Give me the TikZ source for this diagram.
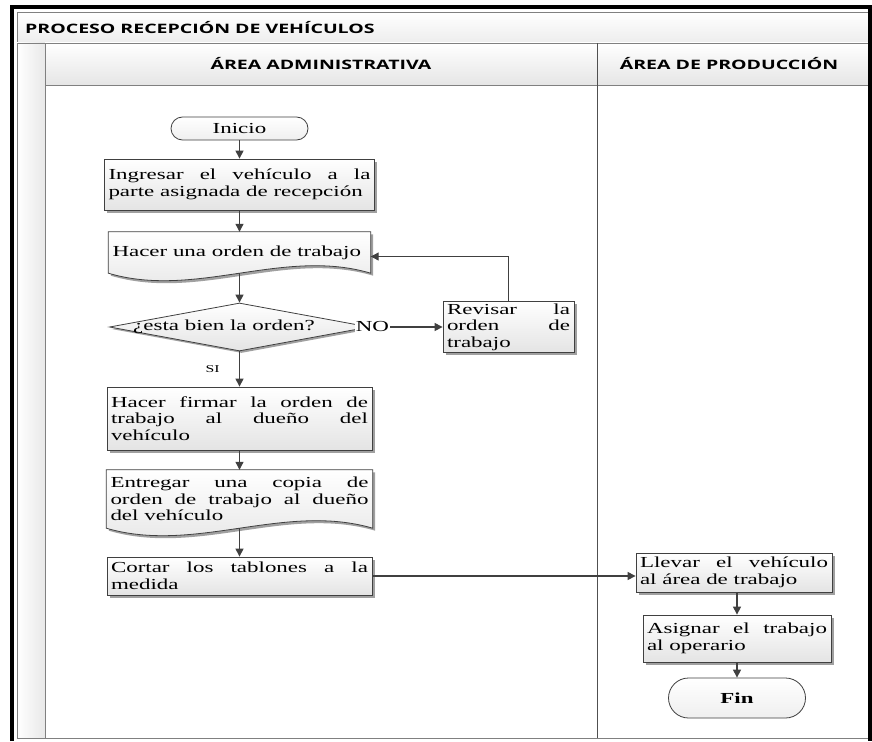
\documentclass[tikz,border=0pt]{standalone}
\usepackage{fontspec}
\setmainfont{Liberation Serif}[FakeStretch=1.5]
\newfontfamily\headfont{Open Sans}[FakeStretch=1.5]
\usetikzlibrary{arrows.meta,shapes.geometric,shadows,calc}
\pgfdeclarelayer{pool}
\pgfdeclarelayer{docs}
\pgfsetlayers{pool,docs,main}
\definecolor{edge}{HTML}{404040}
\definecolor{poolline}{HTML}{808080}
\definecolor{laneline}{HTML}{505050}
\definecolor{boxbot}{HTML}{E4E4E4}
\definecolor{shade}{HTML}{A0A0A0}
\hyphenpenalty=10000
\exhyphenpenalty=10000
\newcommand\bodyfont{\fontsize{15.3}{16.6}\selectfont}
\newcommand\titlefont{\headfont\bfseries\fontsize{13}{15}\selectfont}
% document symbol (wavy bottom) drawn around a named node
\newcommand\docshape[1]{%
  \path[fill=shade, transform canvas={shift={(2.5pt,-2.5pt)}}]
    (#1.north west) -- (#1.north east) -- (#1.south east)
    .. controls ($(#1.south east)!1/3!(#1.south west)+(0,-26)$)
    and ($(#1.south east)!2/3!(#1.south west)+(0,26)$) .. (#1.south west) -- cycle;
  \path[draw=edge, line width=0.8pt, top color=white, bottom color=boxbot]
    (#1.north west) -- (#1.north east) -- (#1.south east)
    .. controls ($(#1.south east)!1/3!(#1.south west)+(0,-26)$)
    and ($(#1.south east)!2/3!(#1.south west)+(0,26)$) .. (#1.south west) -- cycle;}
\begin{document}
\begin{tikzpicture}[x=1pt,y=-1pt,
  proc/.style={rectangle, draw=edge, line width=0.8pt, top color=white, bottom color=boxbot,
    drop shadow={shadow xshift=2.5pt, shadow yshift=-2.5pt, fill=shade, opacity=1},
    inner xsep=4pt, inner ysep=2pt, align=justify, font=\bodyfont},
  docbox/.style={rectangle, inner xsep=4pt, inner ysep=2pt, align=justify, font=\bodyfont},
  term/.style={rectangle, rounded corners=#1, draw=edge, line width=0.8pt,
    top color=white, bottom color=boxbot!60, minimum width=137pt, font=\bodyfont},
  decision/.style={diamond, draw=edge, line width=0.8pt, top color=white, bottom color=boxbot,
    drop shadow={shadow xshift=2pt, shadow yshift=-2pt, fill=shade, opacity=1},
    minimum width=260pt, minimum height=48pt, inner sep=0pt},
  arr/.style={draw=edge, line width=1.1pt, -{Triangle[length=8pt,width=8pt]}},
  headtext/.style={font=\titlefont, inner sep=0pt},
  lbl/.style={font=\bodyfont, fill=white, inner sep=1pt}
]
\useasboundingbox (0,0) rectangle (872,741);

% ---------- pool and lanes ----------
\begin{pgfonlayer}{pool}
  \fill[white] (0,0) rectangle (872,741);
  \path[top color=white, bottom color=black!7, draw=poolline, line width=0.8pt] (17,12) rectangle (868,43);
  \path[left color=white, right color=black!9, draw=poolline, line width=0.8pt] (17,43) rectangle (45,738);
  \path[top color=white, bottom color=black!10, draw=poolline, line width=0.8pt] (45,43) rectangle (868,85);
  \draw[laneline, line width=0.9pt] (597,43) -- (597,738);
  \draw[poolline, line width=0.8pt] (45,738) -- (868,738);
  \draw[black, line width=4pt] (12,741) -- (12,7) -- (870,7) -- (870,741);
\end{pgfonlayer}
\node[headtext, anchor=west] (title) at (25,27.5) {PROCESO RECEPCIÓN DE VEHÍCULOS};
\node[headtext] (hadm) at (321,64) {ÁREA ADMINISTRATIVA};
\node[headtext] (hprod) at (729,64) {ÁREA DE PRODUCCIÓN};

% ---------- administrative lane ----------
\node[term=11.5pt, minimum height=23pt] (ini) at (239.5,128.5) {Inicio};
\node[proc, text width=262pt, minimum height=51pt] (ing) at (239.5,184.5)
  {Ingresar el vehículo a la\linebreak parte asignada de recepción};
\node[docbox, text width=254pt, minimum height=41pt] (ord) at (239.5,252.5)
  {Hacer una orden de trabajo};
\node[decision] (dia) at (239.5,327) {};
\node[font=\bodyfont, inner sep=0pt] (qtext) at ($(dia.center)+(-15.5,0)$) {¿esta bien la orden?};
\node[proc, text width=123pt, minimum height=48pt] (rev) at (508.5,327)
  {Revisar la\linebreak orden de\linebreak trabajo};
\node[proc, text width=257pt, minimum height=63pt] (fir) at (239.5,418.5)
  {Hacer firmar la orden de\linebreak trabajo al dueño del\linebreak vehículo};
\node[docbox, text width=258pt, minimum height=58pt] (ent) at (239.5,499)
  {Entregar una copia de\linebreak orden de trabajo al dueño\linebreak del vehículo};
\node[proc, text width=257pt, minimum height=38pt] (cor) at (239.5,576)
  {Cortar los tablones a la\linebreak medida};

% ---------- production lane ----------
\node[proc, text width=188pt, minimum height=39pt] (lle) at (734,572.5)
  {Llevar el vehículo\linebreak al área de trabajo};
\node[proc, text width=180pt, minimum height=47pt] (asi) at (737,638.5)
  {Asignar el trabajo\linebreak al operario};
\node[term=20pt, minimum height=40pt, font=\bodyfont\bfseries] (fin) at (737,698) {Fin};

\begin{pgfonlayer}{docs}
  \docshape{ord}
  \docshape{ent}
\end{pgfonlayer}

% ---------- connectors ----------
\draw[arr] (ini.south) -- (ing.north);
\draw[arr] (ing.south) -- (ord.north);
\draw[arr] (ord.south) -- (dia.north);
\draw[arr] (dia.east) -- node[lbl, pos=0.035] {NO} (rev.west);
\draw[arr] (rev.north) |- ($(ord.east)+(0,4)$);
\draw[arr] (dia.south) -- node[midway, xshift=-27pt, font=\fontsize{10.5}{12}\selectfont] {SI} (fir.north);
\draw[arr] (fir.south) -- (ent.north);
\draw[arr] (ent.south) -- (cor.north);
\draw[arr] (cor.east) -- (cor.east -| lle.west);
\draw[arr] (asi.north |- lle.south) -- (asi.north);
\draw[arr] (asi.south) -- (fin.north);
\end{tikzpicture}
\end{document}
